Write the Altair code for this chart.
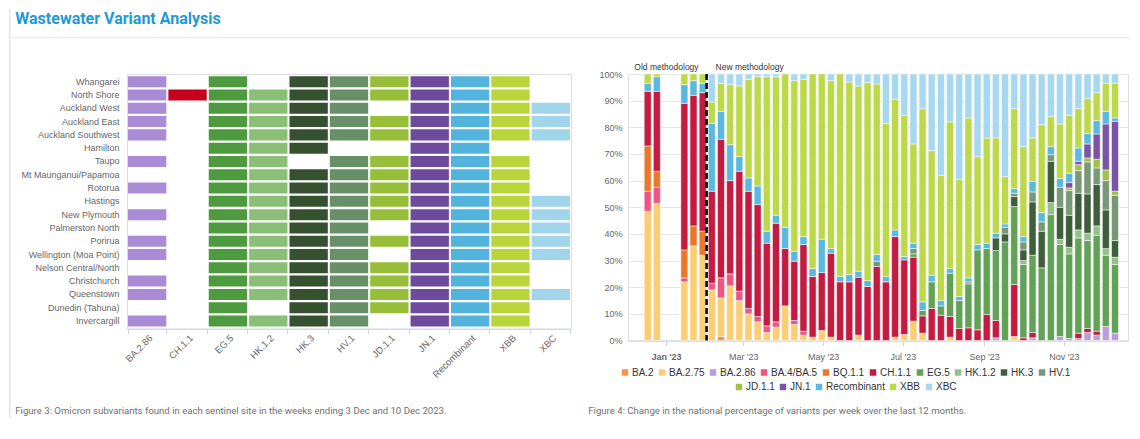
import altair as alt
import pandas as pd

FONT = "Liberation Sans"
TITLE = "Wastewater Variant Analysis"
CAPTION_3 = "Figure 3: Omicron subvariants found in each sentinel site in the weeks ending 3 Dec and 10 Dec 2023."
CAPTION_4 = "Figure 4: Change in the national percentage of variants per week over the last 12 months."
OLD_LABEL = "Old methodology"
NEW_LABEL = "New methodology"
METHOD_CHANGE = "2023-02-01"

# ---------------- Figure 3 (heatmap) ----------------
SITES = ["Whangarei", "North Shore", "Auckland West", "Auckland East", "Auckland Southwest",
         "Hamilton", "Taupo", "Mt Maunganui/Papamoa", "Rotorua", "Hastings", "New Plymouth",
         "Palmerston North", "Porirua", "Wellington (Moa Point)", "Nelson Central/North",
         "Christchurch", "Queenstown", "Dunedin (Tahuna)", "Invercargill"]
HEAT_VARIANTS = ["BA.2.86", "CH.1.1", "EG.5", "HK.1.2", "HK.3", "HV.1", "JD.1.1", "JN.1",
                 "Recombinant", "XBB", "XBC"]
HEAT_COLORS = ["#A98BD6", "#C4001F", "#4E9A3E", "#8BBF78", "#36512F", "#679068", "#97BE39",
               "#6D4A9B", "#52B3DC", "#B8D63A", "#A0D5EC"]

FOUND_BA286 = [1, 1, 1, 1, 1, 0, 1, 0, 1, 0, 1, 0, 1, 1, 0, 1, 1, 0, 1]
FOUND_CH11 = [0, 1, 0, 0, 0, 0, 0, 0, 0, 0, 0, 0, 0, 0, 0, 0, 0, 0, 0]
FOUND_EG5 = [1, 1, 1, 1, 1, 1, 1, 1, 1, 1, 1, 1, 1, 1, 1, 1, 1, 1, 1]
FOUND_HK12 = [0, 1, 1, 1, 1, 1, 1, 1, 1, 1, 1, 1, 1, 1, 1, 1, 1, 0, 1]
FOUND_HK3 = [1, 1, 1, 1, 1, 1, 0, 1, 1, 1, 1, 1, 1, 1, 1, 1, 1, 1, 1]
FOUND_HV1 = [1, 1, 1, 1, 1, 0, 1, 1, 1, 1, 1, 1, 1, 1, 1, 1, 1, 1, 1]
FOUND_JD11 = [1, 1, 0, 1, 1, 0, 1, 1, 1, 1, 1, 0, 1, 0, 1, 1, 1, 1, 0]
FOUND_JN1 = [1, 1, 1, 1, 1, 1, 1, 1, 1, 1, 1, 1, 1, 1, 1, 1, 1, 1, 1]
FOUND_REC = [1, 1, 1, 1, 1, 1, 1, 1, 1, 1, 1, 1, 1, 1, 1, 1, 1, 1, 1]
FOUND_XBB = [1, 1, 1, 1, 1, 0, 1, 1, 1, 1, 1, 1, 1, 1, 1, 1, 1, 1, 1]
FOUND_XBC = [0, 0, 1, 1, 1, 0, 0, 0, 0, 1, 1, 1, 1, 1, 0, 0, 1, 0, 0]

# ---------------- Figure 4 (weekly stacked %) ----------------
VARIANTS = ["BA.2", "BA.2.75", "BA.2.86", "BA.4/BA.5", "BQ.1.1", "CH.1.1", "EG.5", "HK.1.2",
            "HK.3", "HV.1", "JD.1.1", "JN.1", "Recombinant", "XBB", "XBC"]
BAR_COLORS = ["#F4954B", "#FCCD72", "#BC9CDE", "#EE5580", "#E8782A", "#C41C41", "#62A257",
              "#93C08A", "#3F5E3B", "#789878", "#A2C149", "#7A54A5", "#5BB9E0", "#BCD84B", "#A6D8EF"]
LEGEND_ROW1 = VARIANTS[:10]
LEGEND_ROW2 = VARIANTS[10:]

WEEKS = [d.strftime("%Y-%m-%d") for d in pd.date_range("2022-12-18", periods=52, freq="7D")]

PCT_BA2 = [0, 0, None, None, 0, 0, 0, 0, 1.5, 0, 0, 0, 0,
           0, 0, 0, 0, 0, 0, 0, 0, 0, 0, 0, 0, 0,
           0, 0, 0, 0, 0, 0, 0, 0, 0, 0, 0, 0, 0,
           0, 0, 0, 0, 0, 0, 0, 0, 0, 0, 0, 0, 0]
PCT_BA275 = [48.5, 51.5, None, None, 22, 35.5, 32, 19, 14.5, 20.5, 15, 10, 7,
             3, 5, 13, 6, 2, 1.25, 3.75, 1.25, 0, 0, 2, 0, 0,
             0, 1.25, 2.25, 7.25, 2.75, 0, 0, 1.25, 0, 0, 0, 0, 0,
             0, 1.5, 0, 0, 0, 0, 0, 0, 0, 0, 0, 0, 0]
PCT_BA286 = [0, 0, None, None, 0, 0, 0, 0, 0, 0, 0, 0, 0,
             0, 0, 0, 0, 0, 0, 0, 0, 0, 0, 0, 0, 0,
             0, 0, 0, 0, 0, 0, 0, 0, 0, 0, 0, 0, 1,
             0, 0, 0, 1, 0, 0, 1.5, 0.75, 0.75, 3, 2, 5.25, 2.75]
PCT_BA45 = [7.5, 6, None, None, 1.5, 0, 0, 2.5, 7.5, 4.5, 3.5, 2, 2,
            2.5, 2, 0, 1.5, 1.5, 0, 0, 0, 0, 0, 0, 0, 0,
            0, 0, 0, 0, 0, 0, 0, 0, 0, 0, 0, 0, 0,
            0, 0, 0, 0, 0, 0, 0, 0, 0, 0, 0, 0, 0]
PCT_BQ11 = [17, 6, None, None, 10.5, 7.5, 9, 0, 0, 0, 0, 0, 0,
            0, 0, 0, 0, 0, 0, 0, 0, 0, 0, 0, 0, 0,
            0, 0, 0, 0, 0, 0, 0, 0, 0, 0, 0, 0, 0,
            0, 0, 0, 0, 0, 0, 0, 0, 0, 0, 0, 0, 0]
PCT_CH11 = [20.5, 30, None, None, 55, 49, 52, 34.5, 52, 35, 45, 44, 42,
            31, 37, 21.5, 22.25, 32.5, 22.75, 21.75, 31.5, 22, 22, 21.75, 20.25, 27.75,
            22, 37.75, 28, 24, 6.5, 12, 9.5, 7.75, 4.5, 4.75, 4, 9.75, 6.5,
            0, 19.5, 1, 2, 0, 0, 0, 0, 2, 1.5, 1.5, 0, 0]
PCT_EG5 = [0, 0, None, None, 0, 0, 0, 0, 0, 0, 0, 0, 0,
           0, 0, 0, 0, 0, 0, 0, 0, 0, 0, 0, 0, 0,
           0, 0, 0, 1.25, 2, 10, 3.5, 16.25, 10.5, 16.5, 30, 24.75, 26.25,
           37, 29.25, 27.5, 29, 27.25, 47.25, 34.5, 31.75, 35.75, 33, 36, 26.75, 25.75]
PCT_HK12 = [0, 0, None, None, 0, 0, 0, 0, 0, 0, 0, 0, 0,
            0, 0, 0, 0, 0, 0, 0, 0, 0, 0, 0, 0, 0,
            0, 0, 0, 0, 0, 0, 0, 0, 0, 0, 0, 0, 0,
            0, 0, 1.5, 0, 0, 4.5, 2, 2.5, 3, 2.75, 3.5, 2.5, 2.75]
PCT_HK3 = [0, 0, None, None, 0, 0, 0, 0, 0, 0, 0, 0, 0,
           0, 0, 0, 0, 0, 0, 0, 0, 0, 0, 0, 0, 0,
           0, 0, 0, 0, 0, 0, 0, 0, 0, 0, 0, 0, 4.75,
           3, 3.75, 4, 20, 13.75, 15.5, 12, 12, 13.75, 14.75, 15.5, 14.5, 6.25]
PCT_HV1 = [0, 0, None, None, 0, 0, 0, 0, 0, 0, 0, 0, 0,
           0, 0, 0, 0, 0, 0, 0, 0, 0, 0, 0, 0, 2,
           0, 0, 0, 2, 0, 0, 0, 0, 0, 0.75, 0, 0, 0,
           2.5, 1.25, 3, 3.75, 3.5, 2.5, 7.5, 9.25, 8.5, 12, 6.25, 11, 17]
PCT_JD11 = [0, 0, None, None, 0, 0, 0, 0, 0, 0, 0, 0, 0,
            0, 0, 0, 0, 0, 0, 0, 0, 0, 0, 0, 0, 0,
            0, 0, 0, 0, 0, 0, 0, 0, 0, 0, 0, 0, 0,
            0, 0, 0, 0, 0, 0, 0, 1, 2.25, 1.5, 3.25, 4, 1.5]
PCT_JN1 = [0, 0, None, None, 0, 0, 0, 0, 0, 0, 0, 0, 0,
           0, 0, 0, 0, 0, 0, 0, 0, 0, 0, 0, 0, 0,
           0, 0, 0, 0, 0, 0, 0, 0, 0, 0, 0, 0, 0,
           0, 0, 0, 0, 0, 0, 0, 2, 1.25, 5.25, 9.5, 17.25, 26.25]
PCT_REC = [3, 5.5, None, None, 7, 5.5, 3.5, 25.5, 10.5, 13.5, 5.5, 5, 7,
           4.5, 3, 8, 3.75, 3, 3, 12.5, 1.75, 2, 2.75, 2.25, 2.25, 2.5,
           2, 2.5, 1.25, 2, 3.25, 2.5, 2, 1.75, 1.5, 1.5, 2, 2, 1.75,
           1.25, 1.75, 2, 4, 3.5, 3, 3.25, 3.5, 5, 4, 5, 4.75, 1.25]
PCT_XBB = [3.5, 1, None, None, 4, 2.5, 3.5, 8, 10.5, 22.5, 26.5, 37, 41,
           58, 52, 57.5, 64, 59, 73, 62, 63, 76, 72.25, 69.5, 74.25, 64,
           57.5, 49, 53, 37.25, 72.5, 46.75, 47, 55, 44, 60, 33, 39.5, 35.75,
           17.75, 30, 33.75, 16.25, 33, 11.25, 20.5, 21.75, 14.75, 13, 10.5, 10.5, 13]
PCT_XBC = [0, 0, None, None, 0, 0, 0, 10.5, 3.5, 4, 4.5, 2, 1,
           1, 1, 0, 2.5, 2, 0, 0, 2.5, 0, 3, 4.5, 3.25, 3.75,
           18.5, 9.5, 15.5, 26.25, 13, 28.75, 38, 18, 39.5, 16.5, 31, 24, 24,
           38.5, 13, 27.25, 24, 19, 16, 18.75, 15.5, 13, 9.25, 7, 3.5, 3.5]

# ---------------- build tables ----------------
found = dict(zip(HEAT_VARIANTS, [FOUND_BA286, FOUND_CH11, FOUND_EG5, FOUND_HK12, FOUND_HK3,
                                 FOUND_HV1, FOUND_JD11, FOUND_JN1, FOUND_REC, FOUND_XBB, FOUND_XBC]))
heat_df = pd.DataFrame([{"site": s, "variant": v}
                        for v in HEAT_VARIANTS for s, f in zip(SITES, found[v]) if f])

series = dict(zip(VARIANTS, [PCT_BA2, PCT_BA275, PCT_BA286, PCT_BA45, PCT_BQ11, PCT_CH11,
                             PCT_EG5, PCT_HK12, PCT_HK3, PCT_HV1, PCT_JD11, PCT_JN1,
                             PCT_REC, PCT_XBB, PCT_XBC]))
rows = []
for k, v in enumerate(VARIANTS):
    for w, val in zip(WEEKS, series[v]):
        if val:
            rows.append({"week": w, "variant": v, "order": k, "pct": val})
bars_df = pd.DataFrame(rows)
bar_color = dict(zip(VARIANTS, BAR_COLORS))

one = pd.DataFrame({"k": [0]})

# ---------------- left chart ----------------
heat = alt.Chart(heat_df).mark_rect().encode(
    x=alt.X("variant:N",
            scale=alt.Scale(domain=HEAT_VARIANTS, paddingInner=0.05, paddingOuter=0.025),
            axis=alt.Axis(title=None, labelAngle=-45, labelFontSize=9.5, labelColor="#666666",
                          labelFont=FONT, domainColor="#ccd6eb", tickColor="#ccd6eb",
                          tickSize=5, tickBand="extent", labelPadding=-1, labelOverlap=False)),
    y=alt.Y("site:N",
            scale=alt.Scale(domain=SITES, paddingInner=0.17, paddingOuter=0.166),
            axis=alt.Axis(title=None, domain=False, ticks=False, labelPadding=8,
                          labelFontSize=9, labelColor="#666666", labelFont=FONT,
                          labelOverlap=False)),
    color=alt.Color("variant:N", scale=alt.Scale(domain=HEAT_VARIANTS, range=HEAT_COLORS),
                    legend=None),
)

border_v = alt.Chart(one).mark_rule(color="#d6d6d6", strokeWidth=1).encode(
    x=alt.value(-117.2), y=alt.value(-65.0), y2=alt.value(344.0))
header_line = alt.Chart(one).mark_rule(color="#e3e3e3", strokeWidth=1).encode(
    x=alt.value(-117.2), x2=alt.value(1002), y=alt.value(-36.2))
title_text = alt.Chart(pd.DataFrame({"t": [TITLE]})).mark_text(
    align="left", baseline="middle", font="Roboto", fontSize=16, fontWeight="bold",
    color="#1e9ad6").encode(text="t:N", x=alt.value(-111.7), y=alt.value(-55.2))
caption3 = alt.Chart(pd.DataFrame({"t": [CAPTION_3]})).mark_text(
    align="left", baseline="middle", font="Roboto", fontSize=9.6, color="#6f6f6f"
).encode(text="t:N", x=alt.value(-111.7), y=alt.value(337))

left = alt.layer(heat, border_v, header_line, title_text, caption3).properties(
    width=444, height=254.7)

# ---------------- right chart ----------------
x_enc = alt.X(
    "week:T",
    scale=alt.Scale(type="utc", domain=[
        alt.DateTime(year=2022, month=12, date=6, hours=18, minutes=30, utc=True),
        alt.DateTime(year=2023, month=12, date=16, hours=2, minutes=40, utc=True)]),
    axis=alt.Axis(title=None,
                  values=[alt.DateTime(year=2023, month=m, date=1, utc=True) for m in (1, 3, 5, 7, 9, 11)],
                  labelExpr="utcFormat(datum.value, \"%b '%y\")",
                  labelFontWeight={"condition": {"test": "utcmonth(datum.value) === 0", "value": "bold"},
                                   "value": "normal"},
                  labelFontSize=9, labelColor="#666666", labelFont=FONT,
                  domainColor="#ccd6eb", tickColor="#ccd6eb", tickSize=5, labelPadding=7,
                  grid=False),
)
y_enc = alt.Y(
    "y0:Q",
    scale=alt.Scale(domain=[0, 100], nice=False),
    axis=alt.Axis(title=None, values=[0, 10, 20, 30, 40, 50, 60, 70, 80, 90, 100],
                  labelExpr="datum.value + '%'", grid=True, gridColor="#e6e6e6",
                  domain=False, ticks=False, labelPadding=6, labelFontSize=9,
                  labelColor="#666666", labelFont=FONT),
)

base = alt.Chart(bars_df).transform_stack(
    stack="pct", groupby=["week"], sort=[alt.SortField("order", order="ascending")],
    as_=["y0", "y1"])


def bar_layer(group, lx, ly):
    return base.transform_filter(
        alt.FieldOneOfPredicate(field="variant", oneOf=group)
    ).mark_bar(size=7, stroke="white", strokeWidth=0.5).encode(
        x=x_enc, y=y_enc, y2="y1:Q",
        color=alt.Color("variant:N",
                        scale=alt.Scale(domain=group, range=[bar_color[v] for v in group]),
                        legend=alt.Legend(title=None, orient="none", legendX=lx, legendY=ly,
                                          direction="horizontal", columns=len(group),
                                          symbolType="square", symbolSize=42,
                                          symbolStrokeWidth=0, labelFontSize=10,
                                          labelColor="#333333", labelFont=FONT,
                                          labelOffset=2, columnPadding=3)),
    )


bars1 = bar_layer(LEGEND_ROW1, -8, 293.5)
bars2 = bar_layer(LEGEND_ROW2, 106, 308)

method_df = pd.DataFrame({"week": [METHOD_CHANGE], "old": [OLD_LABEL], "new": [NEW_LABEL]})
rule = alt.Chart(method_df).mark_rule(color="black", strokeWidth=2.5, strokeDash=[6, 3]).encode(
    x=x_enc)
old_txt = alt.Chart(method_df).mark_text(
    align="right", baseline="middle", dx=-8, fontSize=8.5, color="#333333", font=FONT
).encode(x=x_enc, y=alt.value(-7), text="old:N")
new_txt = alt.Chart(method_df).mark_text(
    align="left", baseline="middle", dx=9, fontSize=8.5, color="#333333", font=FONT
).encode(x=x_enc, y=alt.value(-7), text="new:N")
caption4 = alt.Chart(pd.DataFrame({"t": [CAPTION_4]})).mark_text(
    align="left", baseline="middle", font="Roboto", fontSize=9.6, color="#6f6f6f"
).encode(text="t:N", x=alt.value(-39.7), y=alt.value(337))

right = alt.layer(bars1, bars2, rule, old_txt, new_txt, caption4).resolve_scale(
    color="independent").properties(width=500, height=266.5)

chart = alt.hconcat(left, right, spacing=57, bounds="flush").resolve_scale(
    color="independent").properties(padding=0).configure_view(
    stroke="transparent").configure(font=FONT)

chart.save("out.html", embed_options={"renderer": "svg", "actions": False})
